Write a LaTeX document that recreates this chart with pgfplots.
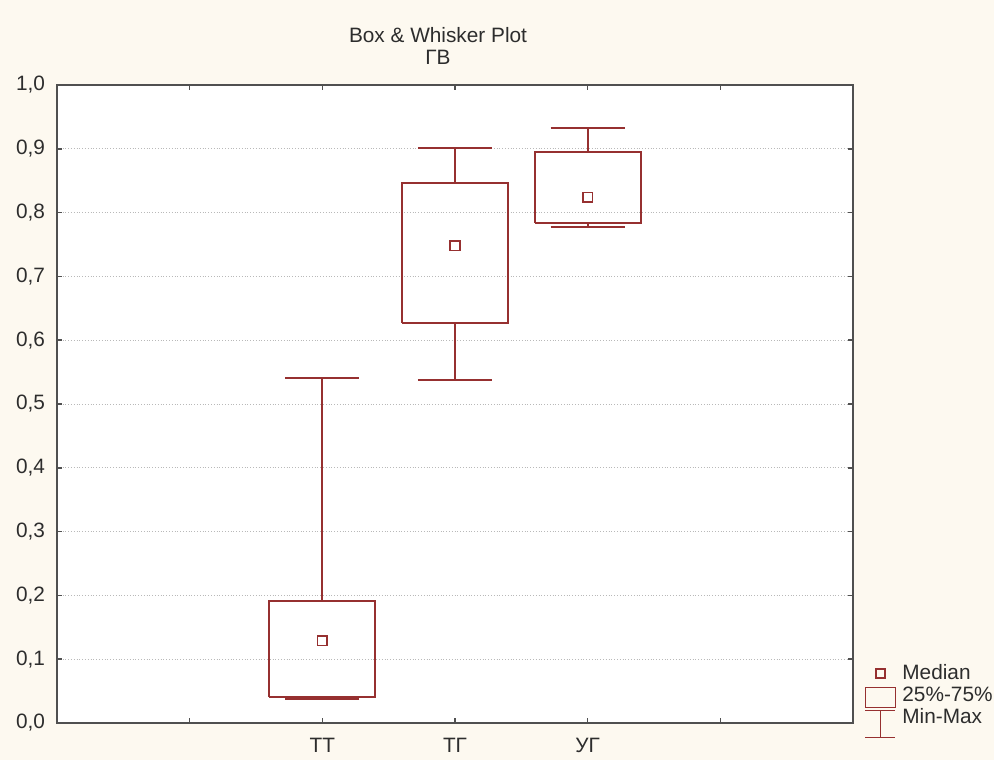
\documentclass[border=0pt]{standalone}
\usepackage{pgfplots}
\pgfplotsset{compat=1.18}
\usepackage{fontspec}
\setmainfont{Liberation Sans}
\definecolor{bx}{RGB}{150,48,48}
\definecolor{cream}{RGB}{253,249,240}
\definecolor{axgray}{RGB}{80,80,80}
\definecolor{txt}{RGB}{45,45,45}
\pgfplotsset{bxs/.style={bx, line width=0.95pt, forget plot, mark=none}}
\begin{document}
\begin{tikzpicture}
\useasboundingbox (-28.5pt,-18.5pt) rectangle (468.5pt,361.5pt);
\clip (-28.5pt,-18.5pt) rectangle (468.5pt,361.5pt);
\fill[cream] (-28.5pt,-18.5pt) rectangle (468.5pt,361.5pt);
\begin{axis}[
  at={(0,0)}, anchor=south west,
  scale only axis, width=398pt, height=319pt,
  xmin=0, xmax=6, ymin=0, ymax=1,
  axis background/.style={fill=white},
  xtick={1,2,3,4,5}, xticklabels={,ТТ,ТГ,УГ,},
  ytick={0,0.1,0.2,0.3,0.4,0.5,0.6,0.7,0.8,0.9,1.0},
  yticklabel style={xshift=-2.5pt, /pgf/number format/.cd, fixed, fixed zerofill, precision=1, use comma},
  /pgf/number format/assume math mode=true,
  xticklabel style={yshift=-4pt},
  tick align=inside,
  major tick length=2.5pt,
  ymajorgrids,
  grid style={gray!55, densely dotted, line width=0.5pt},
  axis line style={axgray, line width=1pt},
  tick style={axgray, line width=0.8pt},
  font=\fontsize{10.4}{12}\selectfont,
  tick label style={text=txt},
  legend style={at={(1,0)}, anchor=north west, xshift=6pt, yshift=29.5pt,
    draw=none, fill=none, inner sep=0pt, column sep=3.5pt, row sep=0pt,
    nodes={inner sep=0pt, text height=7.5pt, text depth=3.5pt, text=txt},
    font=\fontsize{10.4}{12}\selectfont},
  legend cell align=left,
]
% TT: min 0.038, q1 0.041, med 0.129, q3 0.191, max 0.541
\addplot[bxs] coordinates {(1.6,0.041) (2.4,0.041) (2.4,0.191) (1.6,0.191) (1.6,0.041)};
\addplot[bxs] coordinates {(2,0.191) (2,0.541)};
\addplot[bxs] coordinates {(1.72,0.541) (2.28,0.541)};
\addplot[bxs] coordinates {(2,0.041) (2,0.038)};
\addplot[bxs] coordinates {(1.72,0.038) (2.28,0.038)};
% TG: min 0.538, q1 0.627, med 0.748, q3 0.846, max 0.901
\addplot[bxs] coordinates {(2.6,0.627) (3.4,0.627) (3.4,0.846) (2.6,0.846) (2.6,0.627)};
\addplot[bxs] coordinates {(3,0.846) (3,0.901)};
\addplot[bxs] coordinates {(2.72,0.901) (3.28,0.901)};
\addplot[bxs] coordinates {(3,0.627) (3,0.538)};
\addplot[bxs] coordinates {(2.72,0.538) (3.28,0.538)};
% UG: min 0.778, q1 0.784, med 0.824, q3 0.895, max 0.933
\addplot[bxs] coordinates {(3.6,0.784) (4.4,0.784) (4.4,0.895) (3.6,0.895) (3.6,0.784)};
\addplot[bxs] coordinates {(4,0.895) (4,0.933)};
\addplot[bxs] coordinates {(3.72,0.933) (4.28,0.933)};
\addplot[bxs] coordinates {(4,0.784) (4,0.778)};
\addplot[bxs] coordinates {(3.72,0.778) (4.28,0.778)};
% medians
\addplot[bx, only marks, mark=square, mark size=2.4pt, line width=0.8pt, forget plot]
  coordinates {(2,0.129) (3,0.748) (4,0.824)};
\addlegendimage{legend image code/.code={
  \path[draw=none, fill=none] (0,-1pt) rectangle (15pt,1pt);
  \draw[bx, line width=0.8pt, overlay] (5.3pt,-1.2pt) rectangle (9.7pt,3.2pt);}}
\addlegendentry{Median}
\addlegendimage{legend image code/.code={
  \path[draw=none, fill=none] (0,-1pt) rectangle (15pt,1pt);
  \draw[bx, line width=0.9pt, overlay] (0,-5pt) rectangle (15pt,5pt);}}
\addlegendentry{25\%-75\%}
\addlegendimage{legend image code/.code={
  \path[draw=none, fill=none] (0,-1pt) rectangle (15pt,1pt);
  \draw[bx, line width=0.9pt, overlay] (0,4.5pt) -- (15pt,4.5pt) (0,-9pt) -- (15pt,-9pt) (7.5pt,4.5pt) -- (7.5pt,-9pt);}}
\addlegendentry{Min-Max}
\end{axis}
\node[text=txt, font=\fontsize{10.4}{12}\selectfont] at (190.5pt,344pt) {Box \& Whisker Plot};
\node[text=txt, font=\fontsize{10.4}{12}\selectfont] at (190.5pt,333pt) {ГВ};
\end{tikzpicture}
\end{document}
